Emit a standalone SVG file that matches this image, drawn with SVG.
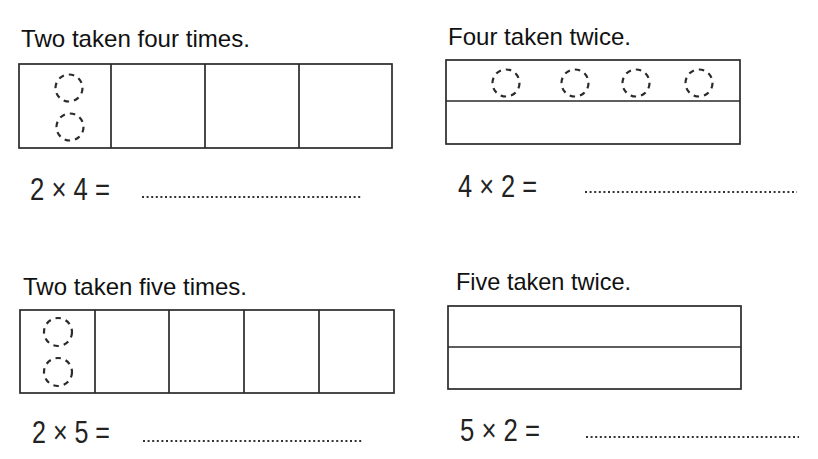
<svg xmlns="http://www.w3.org/2000/svg" width="818" height="459" viewBox="0 0 818 459">
<style>
.t{font-family:"Liberation Sans","DejaVu Sans",sans-serif;font-size:24px;fill:#111}
.e{font-family:"Liberation Sans","DejaVu Sans",sans-serif;font-size:32px;fill:#222}
.b{fill:none;stroke:#2a2a2a;stroke-width:1.7}
.c{fill:none;stroke:#2a2a2a;stroke-width:2.2;stroke-dasharray:5.5 5}
.d{fill:none;stroke:#333;stroke-width:2;stroke-dasharray:2 2.6}
</style>
<rect width="818" height="459" fill="#fff"/>
<g id="panel-two-four">
<text class="t" x="21" y="47" textLength="229" lengthAdjust="spacingAndGlyphs">Two taken four times.</text>
<rect class="b" x="19" y="64" width="373" height="84"/>
<line class="b" x1="111" y1="64" x2="111" y2="148"/>
<line class="b" x1="205" y1="64" x2="205" y2="148"/>
<line class="b" x1="299" y1="64" x2="299" y2="148"/>
<circle class="c" cx="69" cy="88" r="13.5"/>
<circle class="c" cx="70" cy="127" r="13.5"/>
<text class="e" x="30" y="200" textLength="80" lengthAdjust="spacingAndGlyphs">2 × 4 =</text>
<line class="d" x1="142" y1="197" x2="362" y2="197"/>
</g>
<g id="panel-four-two">
<text class="t" x="448" y="45" textLength="183" lengthAdjust="spacingAndGlyphs">Four taken twice.</text>
<rect class="b" x="446" y="60" width="294" height="84"/>
<line class="b" x1="446" y1="101" x2="740" y2="101"/>
<circle class="c" cx="506" cy="83" r="13.5"/>
<circle class="c" cx="575" cy="83" r="13.5"/>
<circle class="c" cx="636" cy="83" r="13.5"/>
<circle class="c" cx="699" cy="83" r="13.5"/>
<text class="e" x="458" y="197" textLength="79" lengthAdjust="spacingAndGlyphs">4 × 2 =</text>
<line class="d" x1="585" y1="192" x2="797" y2="192"/>
</g>
<g id="panel-two-five">
<text class="t" x="23" y="295" textLength="224" lengthAdjust="spacingAndGlyphs">Two taken five times.</text>
<rect class="b" x="20" y="310" width="374" height="83"/>
<line class="b" x1="95" y1="310" x2="95" y2="393"/>
<line class="b" x1="169" y1="310" x2="169" y2="393"/>
<line class="b" x1="244" y1="310" x2="244" y2="393"/>
<line class="b" x1="319" y1="310" x2="319" y2="393"/>
<circle class="c" cx="58" cy="332" r="14"/>
<circle class="c" cx="58" cy="372" r="14"/>
<text class="e" x="32" y="443" textLength="78" lengthAdjust="spacingAndGlyphs">2 × 5 =</text>
<line class="d" x1="143" y1="441" x2="363" y2="441"/>
</g>
<g id="panel-five-two">
<text class="t" x="456" y="290" textLength="175" lengthAdjust="spacingAndGlyphs">Five taken twice.</text>
<rect class="b" x="448" y="306" width="293" height="83"/>
<line class="b" x1="448" y1="347" x2="741" y2="347"/>
<text class="e" x="460" y="441" textLength="80" lengthAdjust="spacingAndGlyphs">5 × 2 =</text>
<line class="d" x1="586" y1="437" x2="799" y2="437"/>
</g>
<g id="connectors"/>
</svg>
